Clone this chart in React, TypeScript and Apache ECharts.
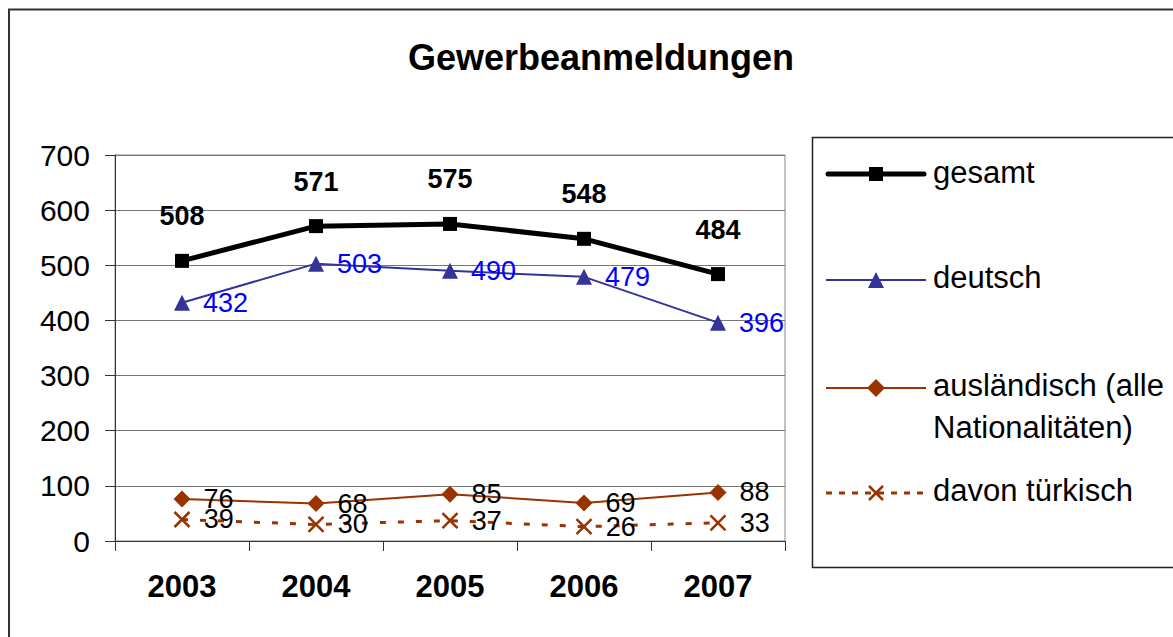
import React, { useEffect, useRef } from "react";
import * as echarts from "echarts";

const years = ["2003", "2004", "2005", "2006", "2007"];
const gesamt = [508, 571, 575, 548, 484];
const deutsch = [432, 503, 490, 479, 396];
const auslaendisch = [76, 68, 85, 69, 88];
const tuerkisch = [39, 30, 37, 26, 33];
const seriesNames = ["gesamt", "deutsch", "ausländisch (alle\nNationalitäten)", "davon türkisch"];
const yTicks = { min: 0, max: 700, interval: 100 };

const FONT = "Liberation Sans";
const BROWN = "#993300";
const NAVY = "#333399";

export default function App() {
  const ref = useRef<HTMLDivElement>(null);
  useEffect(() => {
    if (!ref.current) return;
    const chart = echarts.init(ref.current, undefined, { renderer: "svg" });
    const lblBase = { fontFamily: FONT, fontSize: 27 };
    const legFont = 31;
    chart.setOption({
      animation: false,
      backgroundColor: "#fff",
      textStyle: { fontFamily: FONT },
      grid: {
        left: 115,
        right: 1173 - 785,
        top: 155,
        bottom: 637 - 541,
        show: true,
        borderColor: "#888",
        borderWidth: 1,
        backgroundColor: "transparent",
      },
      xAxis: {
        type: "category",
        data: years,
        boundaryGap: true,
        axisLine: { show: true, lineStyle: { color: "#333", width: 1 } },
        axisTick: { show: true, interval: 0, length: 10, alignWithLabel: false, lineStyle: { color: "#333" } },
        axisLabel: { fontFamily: FONT, fontSize: 31, fontWeight: "bold", color: "#000", margin: 30, interval: 0 },
        splitLine: { show: false },
      },
      yAxis: {
        type: "value",
        min: yTicks.min,
        max: yTicks.max,
        interval: yTicks.interval,
        axisLine: { show: true, lineStyle: { color: "#333", width: 1 } },
        axisTick: { show: true, length: 10, lineStyle: { color: "#333" } },
        axisLabel: { fontFamily: FONT, fontSize: 30, color: "#000", margin: 25 },
        splitLine: { show: true, lineStyle: { color: "#777", width: 1 } },
      },
      series: [
        {
          name: seriesNames[0],
          type: "line",
          data: gesamt,
          symbol: "rect",
          symbolSize: 14,
          lineStyle: { color: "#000", width: 5 },
          itemStyle: { color: "#000" },
          label: { show: true, position: "top", distance: 24, ...lblBase, fontWeight: "bold", color: "#000" },
          z: 5,
        },
        {
          name: seriesNames[1],
          type: "line",
          data: deutsch,
          symbol: "triangle",
          symbolSize: 16,
          lineStyle: { color: NAVY, width: 2 },
          itemStyle: { color: NAVY },
          label: { show: true, position: "right", distance: 13, ...lblBase, color: "#0000ff" },
          z: 4,
        },
        {
          name: seriesNames[2],
          type: "line",
          data: auslaendisch,
          symbol: "diamond",
          symbolSize: 17,
          lineStyle: { color: BROWN, width: 2 },
          itemStyle: { color: BROWN },
          label: { show: true, position: "right", distance: 13, ...lblBase, color: "#000" },
          z: 3,
        },
        {
          name: seriesNames[3],
          type: "line",
          data: tuerkisch,
          symbol: "path://M0,0L16,16M16,0L0,16",
          symbolSize: 15,
          lineStyle: { color: BROWN, width: 3, type: [6, 12] },
          itemStyle: { color: BROWN, borderColor: BROWN, borderWidth: 2.5 },
          label: { show: true, position: "right", distance: 13, ...lblBase, color: "#000" },
          z: 2,
        },
      ],
      graphic: [
        {
          type: "rect",
          shape: { x: 9, y: 9.5, width: 1200, height: 700 },
          style: { fill: "none", stroke: "#333", lineWidth: 2 },
          silent: true,
          z: -10,
        },
        {
          type: "text",
          x: 601,
          y: 57,
          style: {
            text: "Gewerbeanmeldungen",
            fontFamily: FONT,
            fontSize: 36,
            fontWeight: "bold",
            fill: "#000",
            textAlign: "center",
            verticalAlign: "middle",
          },
        },
        {
          type: "rect",
          shape: { x: 812.5, y: 137.5, width: 420, height: 430 },
          style: { fill: "#fff", stroke: "#222", lineWidth: 1.5 },
        },
        // gesamt
        { type: "line", shape: { x1: 828, y1: 174, x2: 924, y2: 174 }, style: { stroke: "#000", lineWidth: 5, lineCap: "round" }, z: 101 },
        { type: "rect", shape: { x: 869, y: 167, width: 14, height: 14 }, style: { fill: "#000" }, z: 102 },
        { type: "text", x: 933, y: 172, style: { text: seriesNames[0], fontFamily: FONT, fontSize: legFont, fill: "#000", verticalAlign: "middle" }, z: 102 },
        // deutsch
        { type: "line", shape: { x1: 826, y1: 280, x2: 926, y2: 280 }, style: { stroke: NAVY, lineWidth: 2 }, z: 101 },
        { type: "polygon", shape: { points: [[868, 288], [884, 288], [876, 272]] }, style: { fill: NAVY }, z: 102 },
        { type: "text", x: 933, y: 277, style: { text: seriesNames[1], fontFamily: FONT, fontSize: legFont, fill: "#000", verticalAlign: "middle" }, z: 102 },
        // auslaendisch
        { type: "line", shape: { x1: 826, y1: 388, x2: 926, y2: 388 }, style: { stroke: BROWN, lineWidth: 2 }, z: 101 },
        { type: "polygon", shape: { points: [[876, 379], [885, 388], [876, 397], [867, 388]] }, style: { fill: BROWN }, z: 102 },
        { type: "text", x: 933, y: 364, style: { text: seriesNames[2], fontFamily: FONT, fontSize: legFont, lineHeight: 42, fill: "#000", verticalAlign: "top" }, z: 102 },
        // tuerkisch
        { type: "line", shape: { x1: 826, y1: 493, x2: 926, y2: 493 }, style: { stroke: BROWN, lineWidth: 3, lineDash: [6, 7] }, z: 101 },
        { type: "line", shape: { x1: 869, y1: 486, x2: 883, y2: 500 }, style: { stroke: BROWN, lineWidth: 2.5 }, z: 102 },
        { type: "line", shape: { x1: 883, y1: 486, x2: 869, y2: 500 }, style: { stroke: BROWN, lineWidth: 2.5 }, z: 102 },
        { type: "text", x: 933, y: 490, style: { text: seriesNames[3], fontFamily: FONT, fontSize: legFont, fill: "#000", verticalAlign: "middle" }, z: 102 },
      ],
    });
    return () => chart.dispose();
  }, []);
  return (
    <div
      ref={ref}
      style={{ position: "fixed", left: 0, top: 0, width: 1173, height: 637, background: "#fff" }}
    />
  );
}
